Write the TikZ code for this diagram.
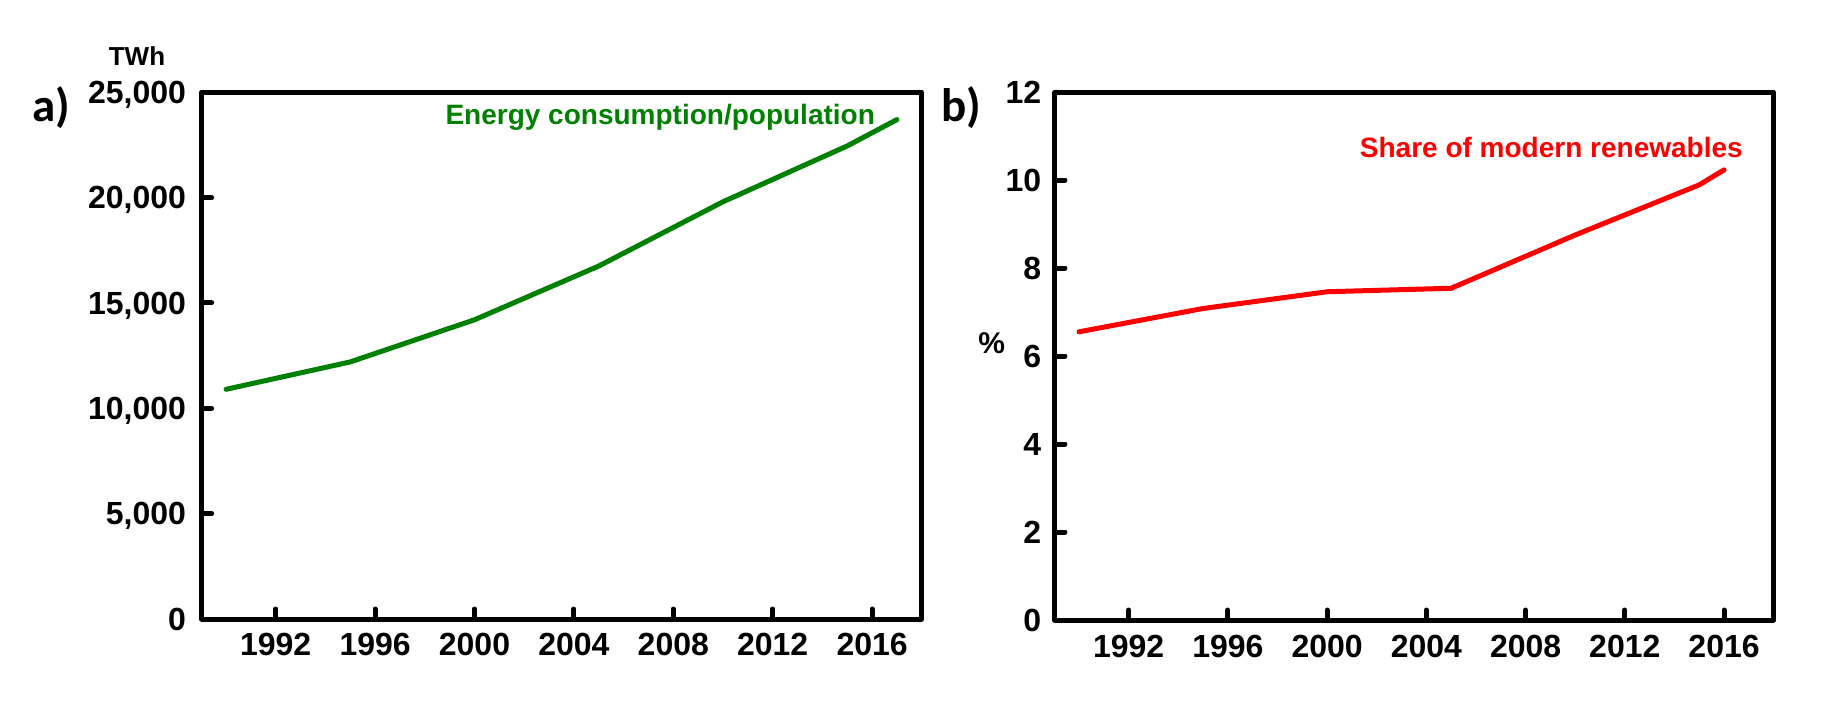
\documentclass[tikz,border=0pt]{standalone}
\usepackage{fontspec}
\setmainfont{Liberation Sans}
\newfontfamily\panelfont{Carlito}
\usetikzlibrary{
  positioning,  % left=..., above=... of
}
\definecolor{mygreen}{RGB}{0,128,0}
\definecolor{myred}{RGB}{255,0,0}
\def\mytick{10pt}
\tikzset{
  my frame/.style={
    draw,
    line width=5pt,
    line join=round
  },
  my tick/.style={
    line width=5pt,
    line cap=round
  },
  my label/.style={
    inner sep=0pt,
    text depth=0pt,
    font=\fontsize{32}{38}\selectfont\bfseries
  },
  my unit/.style={
    inner sep=0pt,
    font=\fontsize{26}{31}\selectfont\bfseries
  },
  my panel/.style={
    inner sep=0pt,
    font=\fontsize{47}{56}\selectfont\panelfont\bfseries
  },
  my legend/.style={
    inner sep=0pt,
    font=\fontsize{28}{34}\selectfont\bfseries
  },
  my curve/.style={
    line width=5pt,
    line join=round,
    line cap=round
  }
}

\begin{document}
\begin{tikzpicture}[x=1pt,y=-1pt]
\useasboundingbox (0,0) rectangle (1832,713);

% panel a)
\node[my panel] (pa) at (51,108) {a)};
\begin{scope}[shift={(226,619)}, x=24.85pt, y=0.02107pt]
  \draw[my frame] (-0.98,0) rectangle (28,25000);
  \foreach \v in {5000,10000,15000,20000}
    \draw[my tick] (-0.98,\v) -- ++(\mytick,0pt);
  \foreach \yr in {1992,1996,...,2016} {
    \draw[my tick] (\yr-1990,0) -- ++(0pt,\mytick);
    \node[my label, below=14pt] (xa\yr) at (\yr-1990,0) {\yr};
  }
  \foreach \v/\t in {0/0,5000/{5,000},10000/{10,000},15000/{15,000},20000/{20,000},25000/{25,000}}
    \node[my label, left=15.5pt] (ya\v) at (-0.98,\v) {\t};
  \node[my unit, above=15pt of ya25000] (twh) {TWh};
  \draw[my curve, mygreen] plot coordinates {
    (0,10900) (5,12200) (10,14200) (15,16750) (20,19800) (25,22450) (27,23700)};
  \node[my legend, mygreen, anchor=base east] (lega) at (26.12,23446) {Energy consumption/population};
\end{scope}

% panel b)
\node[my panel] (pb) at (961.5,108) {b)};
\begin{scope}[shift={(1079,620)}, x=24.81pt, y=44pt]
  \draw[my frame] (-0.97,0) rectangle (28,12);
  \foreach \v in {2,4,...,10}
    \draw[my tick] (-0.97,\v) -- ++(\mytick,0pt);
  \foreach \yr in {1992,1996,...,2016} {
    \draw[my tick] (\yr-1990,0) -- ++(0pt,\mytick);
    \node[my label, below=15pt] (xb\yr) at (\yr-1990,0) {\yr};
  }
  \foreach \v in {0,2,...,12}
    \node[my label, left=13.5pt] (yb\v) at (-0.97,\v) {\v};
  \node[my unit, font=\fontsize{30}{36}\selectfont\bfseries] (pct) at (-3.52,6.29) {\%};
  \draw[my curve, myred] plot coordinates {
    (0,6.55) (5,7.08) (10,7.46) (15,7.54) (20,8.75) (25,9.89) (26,10.23)};
  \node[my legend, myred, anchor=base east] (legb) at (26.76,10.52) {Share of modern renewables};
\end{scope}
\end{tikzpicture}
\end{document}
